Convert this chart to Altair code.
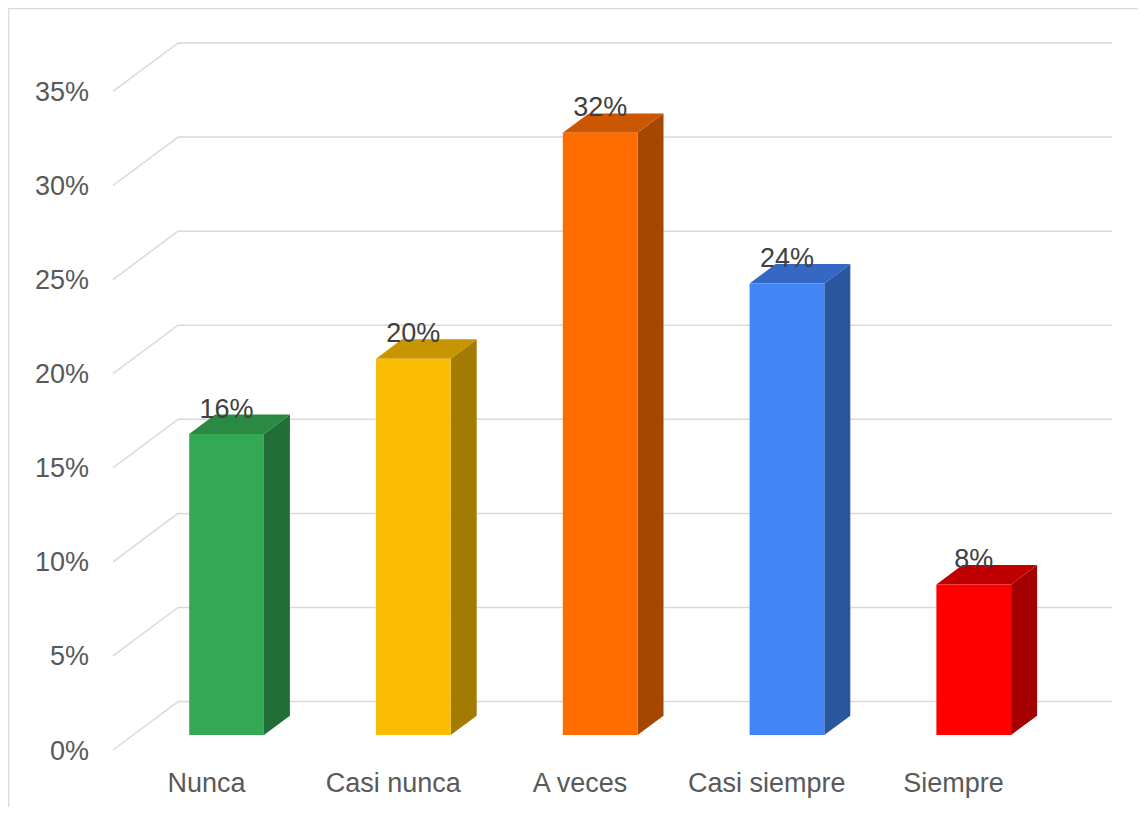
import altair as alt
import pandas as pd

# ---- data ----
categories = ["Nunca", "Casi nunca", "A veces", "Casi siempre", "Siempre"]
values = [16, 20, 32, 24, 8]
front_colors = ["#34A853", "#FBBC04", "#FF6D01", "#4285F4", "#FF0000"]
side_colors = ["#216E36", "#A37B00", "#A54700", "#2A56A0", "#A50000"]
top_colors = ["#2A8A43", "#C79500", "#CC5700", "#3468C4", "#C00000"]
tick_values = [0, 5, 10, 15, 20, 25, 30, 35]

# ---- oblique 3D geometry (in data units) ----
DX = 0.348      # depth shift along category axis
DY = 2.572      # depth shift along value axis (percent)
F1, F2 = 0.31, 0.71   # bar front / back depth fraction
HW = 0.20       # half bar width (category units)
N = len(categories)
YMAX = max(tick_values)

xs = alt.Scale(domain=[0, N + DX], nice=False, zero=False)
ys = alt.Scale(domain=[0, YMAX + DY], nice=False, zero=False)

bars = pd.DataFrame({"cat": categories, "val": values, "idx": range(N)})
bars["c"] = bars["idx"] + 0.5
bars["fx"] = bars["c"] - HW + F1 * DX
bars["fx2"] = bars["c"] + HW + F1 * DX
bars["fy"] = F1 * DY
bars["fy2"] = bars["val"] + F1 * DY
bars["lx"] = bars["c"] + F1 * DX
bars["ly"] = bars["val"] + F2 * DY
bars["label"] = bars["val"].astype(str) + "%"

side_rows, top_rows = [], []
for i, (cat, v) in enumerate(zip(categories, values)):
    c = i + 0.5
    for f in (F1, F2):
        side_rows.append({"cat": cat, "x": c + HW + f * DX, "y": f * DY, "y2": v + f * DY})
        top_rows.append({"cat": cat, "y": v + f * DY, "x": c - HW + f * DX, "x2": c + HW + f * DX})
side = pd.DataFrame(side_rows)
top = pd.DataFrame(top_rows)

ticks = pd.DataFrame({"t": tick_values})
ticks["tb"] = ticks["t"] + DY
ticks["x0"] = 0.0
ticks["xb"] = DX
ticks["xe"] = N + DX
ticks["label"] = ticks["t"].astype(str) + "%"

cats = pd.DataFrame({"cat": categories, "c": [i + 0.5 for i in range(N)], "z": 0.0})

GRID = "#D9D9D9"
FONT = "Liberation Sans"

back_grid = alt.Chart(ticks).mark_rule(color=GRID, strokeWidth=1.5).encode(
    x=alt.X("xb:Q", scale=xs, axis=None), x2="xe:Q",
    y=alt.Y("tb:Q", scale=ys, axis=None), y2="tb:Q")

diag = alt.Chart(ticks).mark_rule(color=GRID, strokeWidth=1.5).encode(
    x=alt.X("x0:Q", scale=xs, axis=None), x2="xb:Q",
    y=alt.Y("t:Q", scale=ys, axis=None), y2="tb:Q")

side_layer = alt.Chart(side).mark_area(orient="vertical", opacity=1).encode(
    x=alt.X("x:Q", scale=xs, axis=None),
    y=alt.Y("y:Q", scale=ys, axis=None, stack=None), y2="y2:Q",
    color=alt.Color("cat:N", scale=alt.Scale(domain=categories, range=side_colors), legend=None))

top_layer = alt.Chart(top).mark_area(orient="horizontal", opacity=1).encode(
    y=alt.Y("y:Q", scale=ys, axis=None),
    x=alt.X("x:Q", scale=xs, axis=None, stack=None), x2="x2:Q",
    color=alt.Color("cat:N", scale=alt.Scale(domain=categories, range=top_colors), legend=None))

front_layer = alt.Chart(bars).mark_rect().encode(
    x=alt.X("fx:Q", scale=xs, axis=None), x2="fx2:Q",
    y=alt.Y("fy:Q", scale=ys, axis=None), y2="fy2:Q",
    color=alt.Color("cat:N", scale=alt.Scale(domain=categories, range=front_colors), legend=None))

value_labels = alt.Chart(bars).mark_text(
    font=FONT, fontSize=27, color="#404040", baseline="alphabetic", align="center", dy=3).encode(
    x=alt.X("lx:Q", scale=xs, axis=None),
    y=alt.Y("ly:Q", scale=ys, axis=None),
    text="label:N")

y_labels = alt.Chart(ticks).mark_text(
    font=FONT, fontSize=27, color="#595959", baseline="alphabetic", align="right", dx=-24, dy=9.5).encode(
    x=alt.X("x0:Q", scale=xs, axis=None),
    y=alt.Y("t:Q", scale=ys, axis=None),
    text="label:N")

x_labels = alt.Chart(cats).mark_text(
    font=FONT, fontSize=27, color="#595959", baseline="alphabetic", align="center", dy=42).encode(
    x=alt.X("c:Q", scale=xs, axis=None),
    y=alt.Y("z:Q", scale=ys, axis=None),
    text="cat:N")

one = pd.DataFrame({"k": [0]})
border_left = alt.Chart(one).mark_rule(color="#D9D9D9", strokeWidth=1.5).encode(
    x=alt.value(-104.5), y=alt.value(-34.5), y2=alt.value(770))
border_top = alt.Chart(one).mark_rule(color="#D9D9D9", strokeWidth=1.5).encode(
    x=alt.value(-104.5), x2=alt.value(1030), y=alt.value(-34.5))

chart = alt.layer(
    border_left, border_top, back_grid, diag, side_layer, top_layer, front_layer,
    value_labels, y_labels, x_labels
).resolve_scale(color="independent").properties(
    width=999, height=707,
    background="white",
    autosize=alt.AutoSizeParams(type="none"),
    padding={"left": 105, "top": 35, "right": 26, "bottom": 57},
).configure_view(strokeWidth=0, stroke="transparent")

chart.save("out.html", embed_options={"renderer": "svg", "actions": False})
